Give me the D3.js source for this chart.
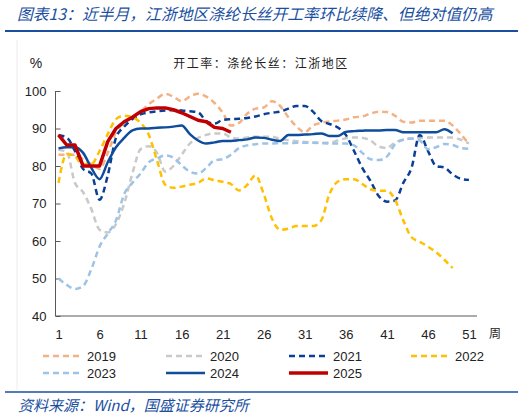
<!DOCTYPE html>
<html>
<head>
<meta charset="utf-8">
<script src="https://cdn.jsdelivr.net/npm/d3@7"></script>
<style>
  body { margin: 0; background: #fff; }
  svg { display: block; font-family: "Liberation Sans", Arial, sans-serif; }
  .cjk { font-family: "Noto Sans CJK SC", sans-serif; }
</style>
</head>
<body>
<div id="chart"></div>
<script>
// weekly utilisation rate, %
var years = ["2019", "2020", "2021", "2022", "2023", "2024", "2025"];
var colors = ["#f4b183", "#c9c9c9", "#0a3f96", "#ffc000", "#9dc3e6", "#0e4c9c", "#c00000"];
var dashed = [true, true, true, true, true, false, false];

var s2019 = [83, 83, 83, 81.8, 80.5, 79.2, 83.5, 89, 91.5, 93, 94.5, 96.5, 98, 99.2, 98.5, 97.3, 98.5, 99.3, 98.5, 96.8,
  94.2, 90.8, 91.5, 94, 95.3, 95.6, 97.3, 96, 93, 90.5, 89, 90.8, 91.5, 91.9, 92.1, 92.4, 93, 93.2, 94, 94.5,
  94.4, 93.4, 91.8, 91.6, 92.1, 92.1, 92.1, 92.1, 90.8, 88.5, 85.8];
var s2020 = [84.3, 83.8, 75.5, 73, 68.5, 63, 62.3, 64.5, 70, 78, 84.5, 85.3, 83.5, 78.5, 80, 83, 86, 87.5, 88.3, 88.7,
  88.7, 87.6, 87.3, 87.6, 87.8, 87.8, 87.8, 87.2, 86.9, 86.6, 86.4, 86.3, 86.2, 86.2, 86.8, 87.4, 87.6, 87.5, 86.8, 85.2,
  84.8, 86.3, 87, 87.4, 87.5, 87.6, 87.6, 87.6, 87.6, 87, 86];
var s2021 = [88.2, 87.6, 84, 79.2, 78, 71, 77.5, 87.5, 90.5, 92.5, 93.8, 94.3, 94.6, 94.8, 94.9, 94.8, 94.6, 94.3, 92, 91.3,
  92.3, 92.5, 92.6, 92.8, 93.2, 93.8, 94.2, 94.5, 95.3, 96, 96, 94.5, 92, 91.2, 90.3, 88.3, 84, 79.5, 76, 72,
  70.5, 70.8, 75.5, 79.5, 88.3, 84, 80, 79.6, 77.8, 76.6, 76.3];
var s2022 = [75.5, 83.2, 82.5, 80.5, 80.5, 84, 88.5, 92.5, 93.4, 93, 91.5, 88.3, 81.5, 75, 74.2, 74.5, 75, 75.5, 76.7, 76.2,
  75.8, 75.2, 73.5, 75, 77.5, 72.5, 66, 63, 63.3, 64, 64, 64, 65.5, 72.5, 75.8, 76.5, 76.5, 75.2, 73.8, 73.4,
  73.4, 71, 65.5, 61, 59.8, 58.5, 57, 55, 52.8];
var s2023 = [50, 48.3, 47.2, 48, 52.5, 58.5, 62, 65.5, 72.5, 75.5, 78, 81, 82, 82.8, 82.2, 80.2, 78.5, 78, 79.5, 81.5,
  81.8, 83, 84.8, 85.5, 85.8, 86, 86, 86.1, 86.1, 86.2, 86.2, 86.2, 86.1, 86, 86, 86, 85.5, 83.5, 81.8, 81.6,
  82.5, 85.8, 87, 87.3, 86.8, 84.5, 85, 85.9, 85.6, 84.8, 84.6];
var s2024 = [84.7, 85, 85, 83.5, 79.5, 76.5, 81, 85, 87.5, 89.5, 90, 90, 90.2, 90.3, 90.5, 90.8, 88.5, 86.8, 86, 86.3,
  86.7, 86.7, 86.9, 87.1, 87.6, 87.5, 87, 86.7, 88.3, 88.3, 88.4, 88.5, 88.7, 88, 88, 89.1, 89.3, 89.4, 89.5, 89.5,
  89.6, 89.6, 89, 89, 89, 89, 89, 89.8, 88.7];
var s2025 = [88.3, 85.6, 85.6, 80, 80, 80, 86.5, 90, 91.8, 93, 94.5, 95.3, 95.5, 95.5, 95, 94.2, 93.2, 92.2, 91.8, 90.3,
  90, 89];

var yTicks = [40, 50, 60, 70, 80, 90, 100];
var xTicks = [1, 6, 11, 16, 21, 26, 31, 36, 41, 46, 51];

var seriesValues = [s2019, s2020, s2021, s2022, s2023, s2024, s2025];

var W = 526, H = 418;
var svg = d3.select("#chart").append("svg").attr("width", W).attr("height", H);

var titleBlue = "#1a4f9f";

// title + rules
svg.append("text")
  .attr("class", "cjk")
  .attr("x", 17).attr("y", 20)
  .style("font-size", "15.8px").style("font-style", "italic")
  .attr("fill", titleBlue)
  .text("图表13：近半月，江浙地区涤纶长丝开工率环比续降、但绝对值仍高");

svg.append("line").attr("x1", 5).attr("x2", 518).attr("y1", 31).attr("y2", 31)
  .attr("stroke", "#1a4f9f").attr("stroke-width", 2);
svg.append("line").attr("x1", 5).attr("x2", 518).attr("y1", 392).attr("y2", 392)
  .attr("stroke", "#1a4f9f").attr("stroke-width", 1.5);
svg.append("line").attr("x1", 17).attr("x2", 17).attr("y1", 40).attr("y2", 390)
  .attr("stroke", "#ececec").attr("stroke-width", 1);

svg.append("text")
  .attr("class", "cjk")
  .attr("x", 18).attr("y", 411)
  .style("font-size", "15px").style("font-style", "italic")
  .attr("fill", titleBlue)
  .text("资料来源：Wind，国盛证券研究所");

// scales
var x = d3.scaleLinear().domain([1, 52]).range([58.5, 477.2]);
var y = d3.scaleLinear().domain([40, 100]).range([316, 91]);

svg.append("text")
  .attr("x", 36).attr("y", 68)
  .attr("text-anchor", "middle")
  .style("font-size", "14px").attr("fill", "#222")
  .text("%");

svg.append("text")
  .attr("class", "cjk")
  .attr("x", 261).attr("y", 68)
  .attr("text-anchor", "middle")
  .style("font-size", "12px").style("letter-spacing", "1.5px").attr("fill", "#222")
  .text("开工率：涤纶长丝：江浙地区");

// axes
var yAxis = svg.append("g")
  .attr("transform", "translate(55.5,0)")
  .call(d3.axisLeft(y).tickValues(yTicks).tickSize(-5).tickPadding(9));
yAxis.selectAll("text").style("font-size", "13px").attr("fill", "#222");
yAxis.selectAll("line, path").attr("stroke", "#595959");
yAxis.select(".domain").attr("d", "M0," + y(40) + "V" + y(100));

var xAxis = svg.append("g")
  .attr("transform", "translate(0," + y(40) + ")")
  .call(d3.axisBottom(x).tickValues(xTicks).tickSize(0).tickPadding(14));
xAxis.selectAll("text").style("font-size", "13px").attr("fill", "#222");
xAxis.select(".domain").attr("stroke", "#595959").attr("d", "M55.5,0H477");

svg.append("text")
  .attr("class", "cjk")
  .attr("x", 495).attr("y", 338)
  .attr("text-anchor", "middle")
  .style("font-size", "12px").attr("fill", "#222")
  .text("周");

// lines
var smooth = d3.line()
  .x(function (d, i) { return x(i + 1); })
  .y(function (d) { return y(d); })
  .curve(d3.curveMonotoneX);
var straight = d3.line()
  .x(function (d, i) { return x(i + 1); })
  .y(function (d) { return y(d); });

seriesValues.forEach(function (vals, k) {
  svg.append("path")
    .datum(vals)
    .attr("fill", "none")
    .attr("stroke", colors[k])
    .attr("stroke-width", k === 6 ? 3.5 : 2.5)
    .attr("stroke-dasharray", dashed[k] ? "6,4" : null)
    .attr("stroke-linejoin", "round")
    .attr("d", k === 6 ? straight(vals) : smooth(vals));
});

// legend
var legX = [43, 166, 289, 411];
var legend = svg.append("g");
years.forEach(function (yr, k) {
  var col = k % 4, row = Math.floor(k / 4);
  var lx = legX[col], ly = 356 + row * 17;
  legend.append("line")
    .attr("x1", lx).attr("x2", lx + 39).attr("y1", ly).attr("y2", ly)
    .attr("stroke", colors[k])
    .attr("stroke-width", k === 6 ? 3.5 : 2.5)
    .attr("stroke-dasharray", dashed[k] ? "6,4" : null);
  legend.append("text")
    .attr("x", lx + 44).attr("y", ly + 5)
    .style("font-size", "13px").attr("fill", "#222")
    .text(yr);
});
</script>
</body>
</html>
